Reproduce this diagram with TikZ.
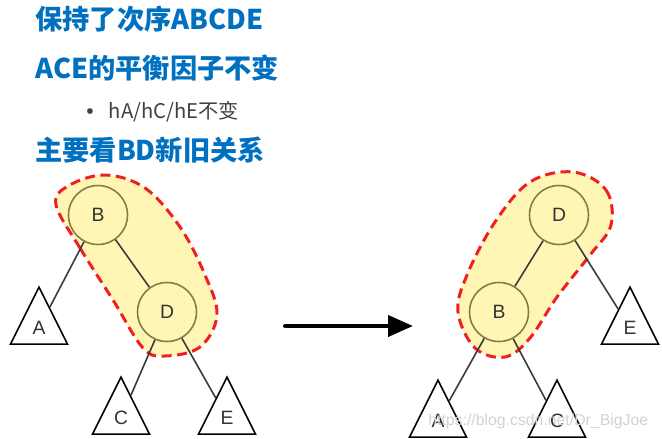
\documentclass[tikz,border=0pt]{standalone}
\usepackage{fontspec}
\newfontfamily\cjk{Noto Sans CJK SC}
\newfontfamily\labfont{Liberation Sans}
\usetikzlibrary{
  arrows.meta,
  shapes.geometric
}
\definecolor{titleblue}{HTML}{0070C0}
\definecolor{blobfill}{HTML}{FFF5B4}
\definecolor{blobred}{HTML}{F02020}
\definecolor{ringolive}{HTML}{857C45}
\definecolor{linkgray}{HTML}{3A3A3A}

\begin{document}
\begin{tikzpicture}[x=0.02cm,y=-0.02cm,>=Latex,
  heading/.style={anchor=west,inner sep=0pt,text=titleblue,font=\cjk\bfseries\fontsize{15.5}{18}\selectfont},
  keynode/.style={circle,draw=ringolive,line width=0.9pt,fill=blobfill,minimum size=1.18cm,inner sep=0pt,
    font=\labfont\fontsize{11}{12}\selectfont,text=black!80},
  subtree/.style={isosceles triangle,shape border rotate=90,isosceles triangle stretches,
    minimum width=1.14cm,minimum height=1.14cm,inner sep=0pt,draw=black,line width=0.9pt,anchor=apex,
    font=\labfont\fontsize{11}{12}\selectfont,text=black!80},
  link/.style={draw=linkgray,line width=0.9pt},
  blob/.style={draw=blobred,fill=blobfill,line width=1.7pt,dash pattern=on 0.2cm off 0.11cm}]
  \useasboundingbox (0,0) rectangle (662,439);

  % text lines
  \node[heading] (t1) at (35,19) {保持了次序ABCDE};
  \node[heading] (t2) at (35,68) {ACE的平衡因子不变};
  \node[anchor=west,inner sep=0pt,text=black!75,font=\cjk\fontsize{11.5}{14}\selectfont]
    (t3) at (86,112) {{\labfont\fontsize{12}{14}\selectfont •}\hspace{0.75em}hA/hC/hE不变};
  \node[heading] (t4) at (35,150) {主要看BD新旧关系};

  % highlighted pairs
  \draw[blob] plot[smooth cycle,tension=0.6] coordinates {
    (56,205) (80,248) (113,300) (143,348) (165,356) (200,347)
    (217,315) (205,275) (180,227) (145,188) (105,175) (68,186)};
  \draw[blob] plot[smooth cycle,tension=0.6] coordinates {
    (573,172) (606,190) (611,225) (590,255) (557,297) (530,338)
    (505,357) (475,348) (458,312) (467,275) (495,222) (530,182)};

  % before
  \node[keynode] (lB) at (98,215) {B};
  \node[keynode] (lD) at (167,312) {D};
  \node[subtree] (lA) at (39,285) {A};
  \node[subtree] (lC) at (121,375) {C};
  \node[subtree] (lE) at (227,375) {E};
  \draw[link] (lB) -- (lD);
  \draw[link] (lB) -- (lA);
  \draw[link] (lD) -- (lC);
  \draw[link] (lD) -- (lE);

  % rotation arrow
  \coordinate (from) at (285,326);
  \coordinate (to) at (413,326);
  \draw[line width=0.08cm,line cap=round,-{Triangle[length=0.5cm,width=0.42cm]}] (from) -- (to);

  % after
  \node[keynode] (rD) at (559,215) {D};
  \node[keynode] (rB) at (499,312) {B};
  \node[subtree] (rE) at (630,285) {E};
  \node[subtree] (rA) at (438,378) {A};
  \node[subtree] (rC) at (557,378) {C};
  \draw[link] (rD) -- (rB);
  \draw[link] (rD) -- (rE);
  \draw[link] (rB) -- (rA);
  \draw[link] (rB) -- (rC);

  \node[anchor=west,inner sep=0pt,text=gray!35,font=\labfont\fontsize{9}{11}\selectfont]
    (mark) at (428,421) {https://blog.csdn.net/Dr\_BigJoe};
\end{tikzpicture}
\end{document}
